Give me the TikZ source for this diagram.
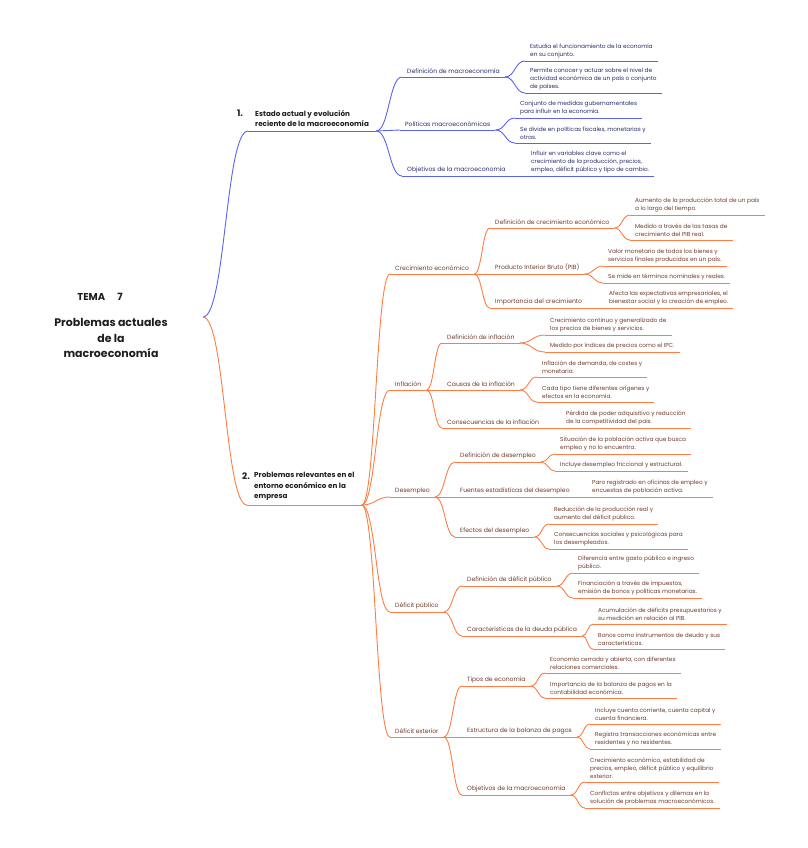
\documentclass[tikz,border=0pt]{standalone}
\usepackage{fontspec}
\setmainfont{Poppins}
\usepackage{tikz}
\usetikzlibrary{calc}

\definecolor{bluebranch}{HTML}{5A63EE}
\definecolor{bluetext}{HTML}{272C6C}
\definecolor{orangebranch}{HTML}{FF7C42}
\definecolor{orangetext}{HTML}{6F3A2A}
\definecolor{headtext}{HTML}{1E1E1E}

% S-shaped twig from one anchor to another
\newcommand{\twig}[3][]{\draw[#1] let \p1=(#2), \p2=(#3) in (#2) .. controls ({(\x1+\x2)/2},\y1) and ({(\x1+\x2)/2},\y2) .. (#3);}

\begin{document}
\begin{tikzpicture}[x=1pt,y=-1pt,
    bline/.style={draw=bluebranch, line width=0.9pt},
    oline/.style={draw=orangebranch, line width=0.9pt},
    sub/.style={anchor=south west, inner xsep=5pt, inner ysep=3pt, align=left, font=\fontsize{6.1}{8.5}\selectfont},
    leaf/.style={sub, font=\fontsize{5.8}{7.9}\selectfont},
    head/.style={sub, inner xsep=7pt, inner ysep=4pt, font=\fontsize{7.2}{10.5}\selectfont\bfseries},
    bu/.style={text=bluetext, append after command={(\tikzlastnode.south west) edge[bline] (\tikzlastnode.south east)}},
    ou/.style={text=orangetext, append after command={(\tikzlastnode.south west) edge[oline] (\tikzlastnode.south east)}},
    num/.style={text=headtext, font=\fontsize{9}{9}\selectfont\bfseries}]
  \useasboundingbox (0,0) rectangle (807,848);

  \coordinate (root) at (203,317);
  \node[text=headtext, font=\fontsize{10}{12}\selectfont\bfseries] (tema) at (100,297) {TEMA\hspace{12pt}7};
  \node[text=headtext, align=center, font=\fontsize{11}{15.5}\selectfont\bfseries] (main) at (111,338) {Problemas actuales\\de la\\macroeconomía};

  % 1. Estado actual
  \node[head, bu, text=headtext] (e1) at (248,131) {Estado actual y evolución\\reciente de la macroeconomía};
  \node[num] (n1) at (240,113) {1.};
  \node[sub, bu] (e1a) at (402,77) {Definición de macroeconomía};
  \node[sub, bu] (e1b) at (400,130) {Políticas macroeconómicas};
  \node[sub, bu] (e1c) at (402,176) {Objetivos de la macroeconomía};
  \node[leaf, bu] (e1a1) at (525,61) {Estudia el funcionamiento de la economía\\en su conjunto.};
  \node[leaf, bu] (e1a2) at (525,93) {Permite conocer y actuar sobre el nivel de\\actividad económica de un país o conjunto\\de países.};
  \node[leaf, bu] (e1b1) at (515,118) {Conjunto de medidas gubernamentales\\para influir en la economía.};
  \node[leaf, bu] (e1b2) at (515,143) {Se divide en políticas fiscales, monetarias y\\otras.};
  \node[leaf, bu] (e1c1) at (526,176) {Influir en variables clave como el\\crecimiento de la producción, precios,\\empleo, déficit público y tipo de cambio.};

  % 2. Problemas relevantes
  \node[head, ou, text=headtext] (e2) at (247,505) {Problemas relevantes en el\\entorno económico en la\\empresa};
  \node[num] (n2) at (246,476) {2.};
  \node[sub, ou] (c1) at (390,274) {Crecimiento económico};
  \node[sub, ou] (c2) at (390,390) {Inflación};
  \node[sub, ou] (c3) at (390,497) {Desempleo};
  \node[sub, ou] (c4) at (390,612) {Déficit público};
  \node[sub, ou] (c5) at (390,737) {Déficit exterior};

  \node[sub, ou] (c1a) at (490,228) {Definición de crecimiento económico};
  \node[sub, ou] (c1b) at (490,274) {Producto Interior Bruto (PIB)};
  \node[sub, ou] (c1c) at (490,308) {Importancia del crecimiento};
  \node[leaf, ou] (c1a1) at (630,215) {Aumento de la producción total de un país\\a lo largo del tiempo.};
  \node[leaf, ou] (c1a2) at (630,240) {Medido a través de las tasas de\\crecimiento del PIB real.};
  \node[leaf, ou] (c1b1) at (603,266) {Valor monetario de todos los bienes y\\servicios finales producidos en un país.};
  \node[leaf, ou] (c1b2) at (603,283) {Se mide en términos nominales y reales.};
  \node[leaf, ou] (c1c1) at (604,308) {Afecta las expectativas empresariales, el\\bienestar social y la creación de empleo.};

  \node[sub, ou] (c2a) at (442,343) {Definición de inflación};
  \node[sub, ou] (c2b) at (442,390) {Causas de la inflación};
  \node[sub, ou] (c2c) at (442,428) {Consecuencias de la inflación};
  \node[leaf, ou] (c2a1) at (545,335) {Crecimiento continuo y generalizado de\\los precios de bienes y servicios.};
  \node[leaf, ou] (c2a2) at (545,352) {Medido por índices de precios como el IPC.};
  \node[leaf, ou] (c2b1) at (537,377) {Inflación de demanda, de costes y\\monetaria.};
  \node[leaf, ou] (c2b2) at (537,402) {Cada tipo tiene diferentes orígenes y\\efectos en la economía.};
  \node[leaf, ou] (c2c1) at (561,428) {Pérdida de poder adquisitivo y reducción\\de la competitividad del país.};

  \node[sub, ou] (c3a) at (455,462) {Definición de desempleo};
  \node[sub, ou] (c3b) at (455,497) {Fuentes estadísticas del desempleo};
  \node[sub, ou] (c3c) at (455,537) {Efectos del desempleo};
  \node[leaf, ou] (c3a1) at (555,454) {Situación de la población activa que busca\\empleo y no lo encuentra.};
  \node[leaf, ou] (c3a2) at (555,471) {Incluye desempleo friccional y estructural.};
  \node[leaf, ou] (c3b1) at (587,497) {Paro registrado en oficinas de empleo y\\encuestas de población activa.};
  \node[leaf, ou] (c3c1) at (549,524) {Reducción de la producción real y\\aumento del déficit público.};
  \node[leaf, ou] (c3c2) at (549,549) {Consecuencias sociales y psicológicas para\\los desempleados.};

  \node[sub, ou] (c4a) at (462,586) {Definición de déficit público};
  \node[sub, ou] (c4b) at (462,636) {Características de la deuda pública};
  \node[leaf, ou] (c4a1) at (573,573) {Diferencia entre gasto público e ingreso\\público.};
  \node[leaf, ou] (c4a2) at (573,598) {Financiación a través de impuestos,\\emisión de bonos y políticas monetarias.};
  \node[leaf, ou] (c4b1) at (593,624) {Acumulación de déficits presupuestarios y\\su medición en relación al PIB.};
  \node[leaf, ou] (c4b2) at (593,649) {Bonos como instrumentos de deuda y sus\\características.};

  \node[sub, ou] (c5a) at (462,686) {Tipos de economía};
  \node[sub, ou] (c5b) at (462,737) {Estructura de la balanza de pagos};
  \node[sub, ou] (c5c) at (462,795) {Objetivos de la macroeconomía};
  \node[leaf, ou] (c5a1) at (545,673) {Economía cerrada y abierta, con diferentes\\relaciones comerciales.};
  \node[leaf, ou] (c5a2) at (545,698) {Importancia de la balanza de pagos en la\\contabilidad económica.};
  \node[leaf, ou] (c5b1) at (590,724) {Incluye cuenta corriente, cuenta capital y\\cuenta financiera.};
  \node[leaf, ou] (c5b2) at (590,749) {Registra transacciones económicas entre\\residentes y no residentes.};
  \node[leaf, ou] (c5c1) at (585,782) {Crecimiento económico, estabilidad de\\precios, empleo, déficit público y equilibrio\\exterior.};
  \node[leaf, ou] (c5c2) at (585,808) {Conflictos entre objetivos y dilemas en la\\solución de problemas macroeconómicos.};

  % twigs
  \twig[bline]{root}{e1.south west}
  \twig[oline]{root}{e2.south west}
  \foreach \pa/\ch in {e1/e1a, e1/e1b, e1/e1c, e1a/e1a1, e1a/e1a2, e1b/e1b1, e1b/e1b2, e1c/e1c1}
    {\twig[bline]{\pa.south east}{\ch.south west}}
  \foreach \pa/\ch in {e2/c1, e2/c2, e2/c3, e2/c4, e2/c5,
      c1/c1a, c1/c1b, c1/c1c, c1a/c1a1, c1a/c1a2, c1b/c1b1, c1b/c1b2, c1c/c1c1,
      c2/c2a, c2/c2b, c2/c2c, c2a/c2a1, c2a/c2a2, c2b/c2b1, c2b/c2b2, c2c/c2c1,
      c3/c3a, c3/c3b, c3/c3c, c3a/c3a1, c3a/c3a2, c3b/c3b1, c3c/c3c1, c3c/c3c2,
      c4/c4a, c4/c4b, c4a/c4a1, c4a/c4a2, c4b/c4b1, c4b/c4b2,
      c5/c5a, c5/c5b, c5/c5c, c5a/c5a1, c5a/c5a2, c5b/c5b1, c5b/c5b2, c5c/c5c1, c5c/c5c2}
    {\twig[oline]{\pa.south east}{\ch.south west}}
\end{tikzpicture}
\end{document}
